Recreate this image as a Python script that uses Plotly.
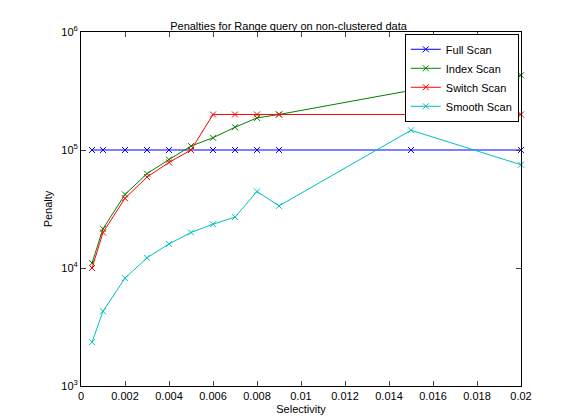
import plotly.graph_objects as go

selectivity = [0.0005, 0.001, 0.002, 0.003, 0.004, 0.005, 0.006, 0.007, 0.008, 0.009, 0.015, 0.02]
full_scan = [1e5] * 12
index_scan = [1.1e4, 2.15e4, 4.2e4, 6.3e4, 8.3e4, 1.08e5, 1.27e5, 1.56e5, 1.87e5, 2.0e5, 3.2e5, 4.3e5]
switch_scan = [1.0e4, 2.0e4, 3.9e4, 5.9e4, 7.85e4, 1.0e5, 2.0e5, 2.0e5, 2.0e5, 2.0e5, 2.0e5, 2.0e5]
smooth_scan = [2.35e3, 4.3e3, 8.2e3, 1.22e4, 1.6e4, 2.0e4, 2.35e4, 2.7e4, 4.45e4, 3.36e4, 1.47e5, 7.5e4]
x_ticks = [0, 0.002, 0.004, 0.006, 0.008, 0.01, 0.012, 0.014, 0.016, 0.018, 0.02]

series = [
    ("Full Scan", full_scan, "#0000ff"),
    ("Index Scan", index_scan, "#008000"),
    ("Switch Scan", switch_scan, "#ff0000"),
    ("Smooth Scan", smooth_scan, "#00bfbf"),
]

fig = go.Figure()
for name, vals, col in series:
    fig.add_trace(go.Scatter(
        x=selectivity, y=vals, name=name, mode="lines+markers", cliponaxis=False,
        line=dict(color=col, width=1),
        marker=dict(symbol="x-thin", size=6, line=dict(color=col, width=1)),
    ))

axis = dict(showline=True, linecolor="black", mirror="ticks", ticks="inside",
            showgrid=False, zeroline=False, tickfont=dict(size=11, color="black"))
fig.update_xaxes(range=[0, 0.02], tickvals=x_ticks,
                 ticktext=[f"{t:g}" for t in x_ticks],
                 title=dict(text="Selectivity", font=dict(size=11), standoff=4), **axis)
fig.update_yaxes(type="log", range=[3, 6], tickvals=[1e3, 1e4, 1e5, 1e6],
                 ticktext=["10<sup>3</sup>", "10<sup>4</sup>", "10<sup>5</sup>", "10<sup>6</sup>"],
                 title=dict(text="Penalty", font=dict(size=11), standoff=6), **axis)
fig.update_layout(
    width=561, height=420, plot_bgcolor="white", paper_bgcolor="white",
    font=dict(family="Liberation Sans, Arial", size=11, color="black"),
    title=dict(text="Penalties for Range query on non-clustered data", x=0.5, y=0.965,
               xanchor="center", font=dict(size=11)),
    margin=dict(l=73, r=48, t=24, b=42),
    legend=dict(x=0.995, y=0.995, xanchor="right", yanchor="top",
                bgcolor="white", bordercolor="black", borderwidth=1,
                font=dict(size=11), tracegroupgap=0),
)
fig.write_html("out.html")
